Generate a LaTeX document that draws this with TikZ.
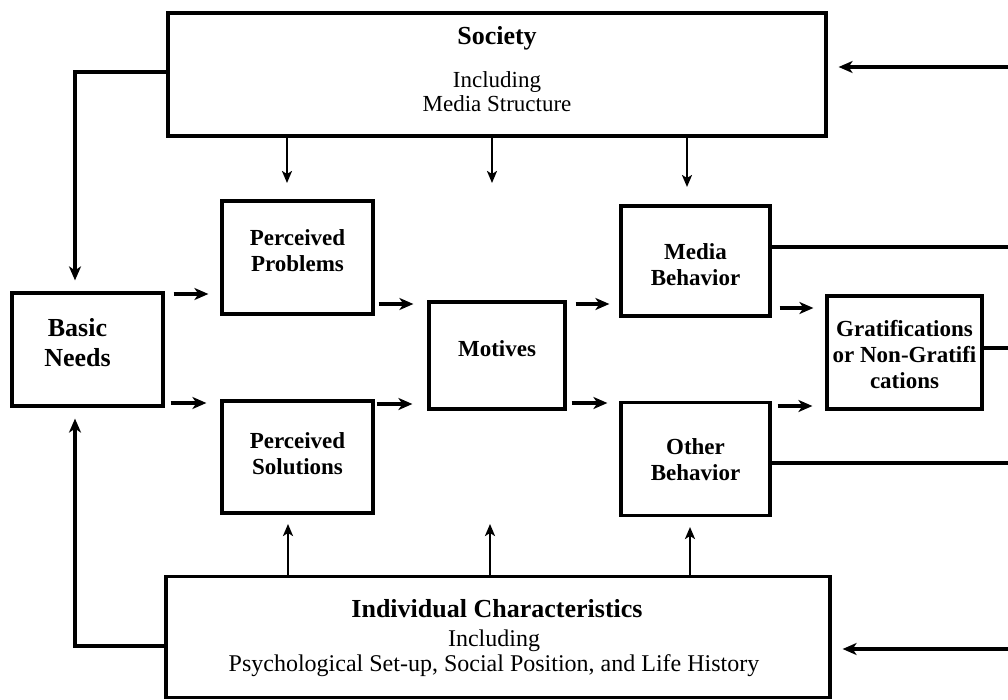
\documentclass[tikz,border=0pt]{standalone}
\usepackage{fontspec}
\setmainfont{Liberation Serif}
\usetikzlibrary{arrows.meta}
\newcommand{\boxlbl}[2]{\raisebox{\dimexpr#1-0.25em\relax}[0pt][0pt]{\begin{tabular}{@{}c@{}}#2\end{tabular}}}
\begin{document}
\begin{tikzpicture}[x=1pt,y=-1pt,
  box/.style={draw, line width=3.2pt, inner sep=0pt, align=center,
    font=\bfseries\fontsize{23}{26}\selectfont},
  title/.style={inner sep=0pt, align=center, font=\bfseries\fontsize{26}{30}\selectfont},
  sub/.style={inner sep=0pt, align=center, font=\fontsize{23}{24}\selectfont},
  arr/.style={-{Stealth[length=14pt,width=12pt,inset=4pt]}, line width=3.2pt},
  tarr/.style={-{Stealth[length=12pt,width=10pt,inset=3pt]}, line width=2.2pt},
  fb/.style={line width=3.2pt}]
\useasboundingbox (0,0) rectangle (1008,700);
% boxes
\node[box, minimum width=658, minimum height=123] (soc) at (497,74.5) {};
\node[title] (socT) at (497,38) {Society};
\node[sub] (socS) at (497,92) {Including\\Media Structure};
\node[box, minimum width=664, minimum height=121] (ind) at (498,637) {};
\node[title] (indT) at (497,609) {Individual Characteristics};
\node[sub, font=\fontsize{24}{25}\selectfont] (indS) at (494,653) {Including\\Psychological Set-up, Social Position, and Life History};
\node[box, minimum width=151, minimum height=113, font=\bfseries\fontsize{26}{30}\selectfont] (bn) at (87.5,349.5) {\boxlbl{4pt}{Basic\\Needs}\hspace*{20pt}};
\node[box, minimum width=151, minimum height=113] (pp) at (297.5,257.5) {\boxlbl{4pt}{Perceived\\Problems}};
\node[box, minimum width=151, minimum height=112] (ps) at (297.5,457) {\boxlbl{0pt}{Perceived\\Solutions}};
\node[box, minimum width=136, minimum height=107] (mot) at (497,355.5) {\boxlbl{4pt}{Motives}};
\node[box, minimum width=149, minimum height=110] (mb) at (695.5,261) {\boxlbl{-7pt}{Media\\Behavior}};
\node[box, minimum width=149, minimum height=113] (ob) at (695.5,459) {\boxlbl{-4pt}{Other\\Behavior}};
\node[box, minimum width=155, minimum height=113] (gr) at (904.5,352.5) {\boxlbl{-5pt}{Gratifications\\or Non-Gratifi\\cations}};
% helper coordinates
\coordinate (R) at (1008,0);
\coordinate (xL) at (75,0);
\coordinate (t1) at (287,183);
\coordinate (t2) at (492,183);
\coordinate (t3) at (687,187);
\coordinate (u1) at (288,524);
\coordinate (u2) at (490,524);
\coordinate (u3) at (690,527);
% society down arrows
\draw[tarr] (soc.south -| t1) -- (t1);
\draw[tarr] (soc.south -| t2) -- (t2);
\draw[tarr] (soc.south -| t3) -- (t3);
% individual up arrows
\draw[tarr] (ind.north -| u1) -- (u1);
\draw[tarr] (ind.north -| u2) -- (u2);
\draw[tarr] (ind.north -| u3) -- (u3);
% left loops
\draw[arr, shorten >=11pt] (soc.west |- 0,72) -| (xL |- bn.north);
\draw[arr, shorten >=11pt] (ind.west |- 0,646) -| (xL |- bn.south);
% horizontal arrows
\draw[arr, shorten <=9pt, shorten >=12pt] (bn.east |- 0,294) -- (pp.west |- 0,294);
\draw[arr, shorten <=6pt, shorten >=14pt] (bn.east |- 0,403) -- (ps.west |- 0,403);
\draw[arr, shorten <=4pt, shorten >=14pt] (pp.east |- 0,304) -- (mot.west |- 0,304);
\draw[arr, shorten <=2pt, shorten >=15pt] (ps.east |- 0,404) -- (mot.west |- 0,404);
\draw[arr, shorten <=9pt, shorten >=10pt] (mot.east |- 0,304) -- (mb.west |- 0,304);
\draw[arr, shorten <=5pt, shorten >=12pt] (mot.east |- 0,403) -- (ob.west |- 0,403);
\draw[arr, shorten <=8pt, shorten >=12pt] (mb.east |- 0,308) -- (gr.west |- 0,308);
\draw[arr, shorten <=6pt, shorten >=13pt] (ob.east |- 0,406) -- (gr.west |- 0,406);
% feedback lines to the right
\draw[fb] (mb.east |- 0,247) -- (R |- 0,247);
\draw[fb] (gr.east |- 0,348) -- (R |- 0,348);
\draw[fb] (ob.east |- 0,463) -- (R |- 0,463);
\draw[arr, shorten >=11pt] (R |- 0,67) -- (soc.east |- 0,67);
\draw[arr, shorten >=11pt] (R |- 0,649) -- (ind.east |- 0,649);
\end{tikzpicture}
\end{document}
